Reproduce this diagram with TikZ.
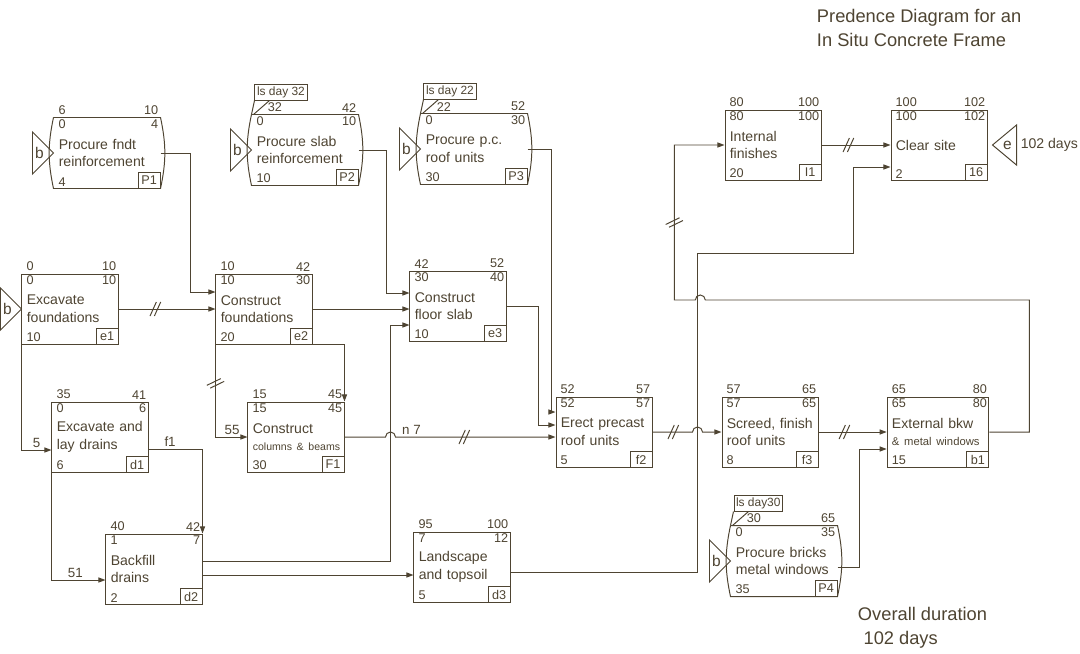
\documentclass[tikz,border=0pt]{standalone}
\usepackage{fontspec}
\setmainfont{Liberation Sans}
\usepackage{tikz}
\usetikzlibrary{positioning, arrows.meta, calc}
\definecolor{ink}{RGB}{78,68,50}

\newcommand{\nums}[7]{%
  \node[num, anchor=south west, xshift=2pt] (#1ol) at (#1.north west) {#2};
  \node[num, anchor=south east] (#1or) at (#1.north east) {#3};
  \node[num, anchor=north west, xshift=2pt] (#1il) at (#1.north west) {#4};
  \node[num, anchor=north east] (#1ir) at (#1.north east) {#5};
  \node[num, anchor=south west, xshift=2pt] (#1du) at (#1.south west) {#6};
  \node[code, anchor=south east] (#1co) at (#1.south east) {#7};}
\newcommand{\procframe}[1]{%
  \draw[line] (#1.north west) -- (#1.north east) to[bend left=12] (#1.south east)
    -- (#1.south west) to[bend left=12] (#1.north west);}
\newcommand{\startb}[1]{%
  \draw[line] (#1.west) -- ++(-21,-21) -- ++(0,42) -- cycle;
  \node[lbl, font=\fontsize{11}{11}\selectfont] (#1b) at ($(#1.west)+(-14,0)$) {b};}
\newcommand{\ptag}[2]{%
  \node[tag, anchor=south west] (#1t) at ($(#1.north west)+(3,-14)$) {#2};
  \draw[line] (#1t.south west) -- (#1.north west)
    ($(#1t.south west)+(15,0)$) -- ($(#1.north west)+(2,0)$);}

\begin{document}
\begin{tikzpicture}[x=0.025cm, y=-0.025cm,
  line/.style={draw=ink, line width=0.7pt},
  conn/.style={line, -{Triangle[length=5pt, width=3.6pt]}},
  act/.style={draw=ink, line width=0.7pt, text=ink, text width=2.16cm, inner xsep=0.12cm,
    minimum height=1.75cm, align=left, font=\fontsize{10}{12.5}\selectfont},
  proc/.style={act, draw=none, text width=2.41cm},
  num/.style={text=ink, inner sep=1.5pt, font=\fontsize{9}{9}\selectfont},
  code/.style={draw=ink, line width=0.6pt, text=ink, inner sep=1.5pt, minimum width=0.55cm,
    minimum height=0.38cm, font=\fontsize{9}{9}\selectfont},
  tag/.style={draw=ink, line width=0.6pt, text=ink, inner sep=1.5pt, font=\fontsize{8.5}{8.5}\selectfont},
  lbl/.style={text=ink, inner sep=1.5pt, font=\fontsize{9.5}{9.5}\selectfont},
  note/.style={text=ink, align=left, font=\fontsize{13}{17}\selectfont},
  brk/.pic={\draw[line] (-3.8pt,-5pt) -- (0.7pt,5pt) (-0.7pt,-5pt) -- (3.8pt,5pt);}]
  \useasboundingbox (0,0) rectangle (1080,653);

  \node[note, anchor=north west] (title) at (812,4) {Predence Diagram for an\\In Situ Concrete Frame};
  \node[note, anchor=north west] (total) at (853,602) {Overall duration\\\hspace*{4pt}102 days};

  \node[proc] (P1) at (107,153) {Procure~fndt\\reinforcement};
  \node[proc] (P2) at (305,150) {Procure~slab\\reinforcement};
  \node[proc] (P3) at (474,149) {Procure~p.c.\\roof~units};
  \node[proc] (P4) at (784,561) {Procure~bricks\\metal~windows};
  \node[act] (I1) at (773,145) {Internal\\finishes};
  \node[act] (I6) at (939,145) {Clear~site};
  \node[act] (e1) at (70,309) {Excavate\\foundations};
  \node[act] (e2) at (264,309) {Construct\\foundations};
  \node[act] (e3) at (458,306) {Construct\\floor~slab};
  \node[act] (F1) at (296,437) {Construct\\{\fontsize{7.5}{9}\selectfont columns~\&~beams}};
  \node[act] (d1) at (100,437) {Excavate~and\\lay~drains};
  \node[act] (d2) at (154,569) {Backfill\\drains};
  \node[act] (d3) at (462,567) {Landscape\\and~topsoil};
  \node[act] (f2) at (604,432) {Erect~precast\\roof~units};
  \node[act] (f3) at (770,432) {Screed,~finish\\roof~units};
  \node[act, text width=2.3cm] (b1) at (938,432) {External~bkw\\\mbox{\fontsize{8}{10}\selectfont \&~metal~windows}};
  \foreach \p in {P1,P2,P3,P4} {\procframe{\p}}

  \nums{P1}{6}{10}{0}{4}{4}{P1}
  \nums{P2}{\hspace*{8pt}32}{42}{0}{10}{10}{P2}
  \nums{P3}{\hspace*{8pt}22}{52}{0}{30}{30}{P3}
  \nums{P4}{\hspace*{8pt}30}{65}{0}{35}{35}{P4}
  \nums{I1}{80}{100}{80}{100}{20}{I1}
  \nums{I6}{100}{102}{100}{102}{2}{16}
  \nums{e1}{0}{10}{0}{10}{10}{e1}
  \nums{e2}{10}{42}{10}{30}{20}{e2}
  \nums{e3}{42}{52}{30}{40}{10}{e3}
  \nums{F1}{15}{45}{15}{45}{30}{F1}
  \nums{d1}{35}{41}{0}{6}{6}{d1}
  \nums{d2}{40}{42}{1}{7}{2}{d2}
  \nums{d3}{95}{100}{7}{12}{5}{d3}
  \nums{f2}{52}{57}{52}{57}{5}{f2}
  \nums{f3}{57}{65}{57}{65}{8}{f3}
  \nums{b1}{65}{80}{65}{80}{15}{b1}

  \ptag{P2}{ls day 32}
  \ptag{P3}{ls day 22}
  \ptag{P4}{ls day30}
  \foreach \p in {P1,P2,P3,P4,e1} {\startb{\p}}
  \draw[line] ($(I6.east)+(5,0)$) -- ++(24,-20) -- ++(0,40) -- cycle;
  \node[lbl, font=\fontsize{11}{11}\selectfont] (I6e) at ($(I6.east)+(20,0)$) {e};
  \node[lbl, anchor=west, inner sep=0pt, font=\fontsize{10}{10}\selectfont] (I6d) at ($(I6.east)+(33,0)$) {102 days};

  \coordinate (d2o) at ($(d2.east)+(0,6)$);
  \coordinate (d3o) at ($(d3.east)+(0,5)$);

  \draw[conn] (P1.east) -- ++(30,0) |- ($(e2.west)+(0,-17)$);
  \draw[conn] (e1.east) -- coordinate[pos=.38] (m1) (e2.west);
  \draw[conn] (P2.east) -- ++(28,0) |- ($(e3.west)+(0,-13)$);
  \draw[conn] (e2.east) -- (e2.east -| e3.west);
  \draw[conn] ($(d2.east)+(0,-8)$) -- ++(188,0) |- ($(e3.west)+(0,19)$);
  \draw[conn] (d2o) -- (d2o -| d3.west);
  \draw[conn] (P3.east) -- ++(24,0) |- ($(f2.west)+(0,-20)$);
  \draw[conn] (e3.east) -- ++(32,0) |- ($(f2.west)+(0,-7)$);
  \draw[conn] (F1.east) -- ++(41,0) arc[start angle=180, end angle=0, radius=0.125cm]
    -- node[lbl, above, pos=.1] (n7) {n 7} coordinate[pos=.43] (m3) ($(f2.west)+(0,5)$);
  \draw[conn] (e2.south west) |- node[lbl, above, pos=.76] (l55) {55} coordinate[pos=.21] (m2) (F1.west);
  \draw[conn] (e2.south east) -| (F1.north east);
  \draw[conn] (e1.south west) |- node[lbl, above, pos=.75] (l5) {5} ($(d1.west)+(0,13)$);
  \draw[conn] ($(d1.east)+(0,12)$) -| node[lbl, above, pos=.2] (lf1) {f1} (d2.north east);
  \draw[conn] (d1.south west) |- node[lbl, above, pos=.72] (l51) {51} ($(d2.west)+(0,11)$);
  \draw[conn] (d3o) -- ++(187,0) -- ++(0,-319) -- ++(156,0) |- ($(I6.west)+(0,22)$);
  \draw[conn] ($(P4.east)+(0,6)$) -- ++(22,0) |- ($(b1.west)+(0,17)$);
  \draw[conn] (f2.east) -- coordinate[pos=.52] (m4) ++(40,0)
    arc[start angle=180, end angle=0, radius=0.125cm] -- (f3.west);
  \draw[conn] (f3.east) -- coordinate[pos=.38] (m5) (b1.west);
  \draw[conn] (b1.east) -- ++(40,0) -- ++(0,-132) -- ++(-324,0)
    arc[start angle=0, end angle=180, radius=0.125cm] -- ++(-21,0) |- coordinate[pos=.25] (m6) (I1.west);
  \draw[conn] (I1.east) -- coordinate[pos=.39] (m7) (I6.west);

  \foreach \m in {m1,m3,m4,m5,m7} {\pic at (\m) {brk};}
  \foreach \m in {m2,m6} {\pic[rotate=-40] at (\m) {brk};}
\end{tikzpicture}
\end{document}
